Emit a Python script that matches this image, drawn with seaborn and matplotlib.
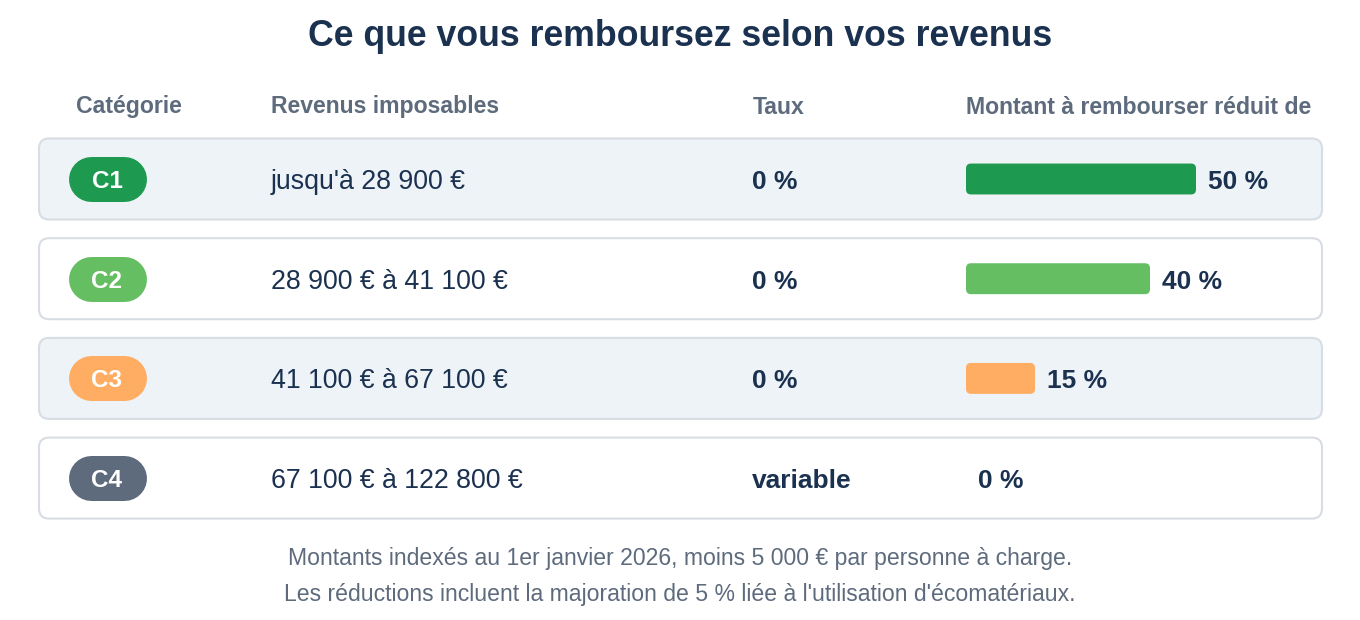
import numpy as np
import matplotlib
matplotlib.use("Agg")
import matplotlib.pyplot as plt
from matplotlib.patches import FancyBboxPatch
import seaborn as sns

# data
categories = ["C1", "C2", "C3", "C4"]
revenus = ["jusqu'à 28 900 €", "28 900 € à 41 100 €", "41 100 € à 67 100 €", "67 100 € à 122 800 €"]
taux = ["0 %", "0 %", "0 %", "variable"]
reduction = [50, 40, 15, 0]
colors = ["#1E9A50", "#66BE62", "#FFAD62", "#5D6B7D"]
headers = ["Catégorie", "Revenus imposables", "Taux", "Montant à rembourser réduit de"]
title = "Ce que vous remboursez selon vos revenus"
notes = ["Montants indexés au 1er janvier 2026, moins 5 000 € par personne à charge.",
         "Les réductions incluent la majoration de 5 % liée à l'utilisation d'écomatériaux."]

sns.set_theme(style="white")
plt.rcParams["font.family"] = ["Liberation Sans", "DejaVu Sans"]

NAVY = "#1B3150"
GREY = "#5D6B7D"
W, H = 1360, 620
ROW0, PITCH = 179, 99.7

fig = plt.figure(figsize=(W / 100, H / 100), dpi=100)
bg = fig.add_axes([0, 0, 1, 1])
bg.set_xlim(0, W)
bg.set_ylim(H, 0)
bg.axis("off")

bg.text(680, 36, title, ha="center", va="center", fontsize=25.7, fontweight="bold", color=NAVY)
for x, h in zip([76, 271, 753, 966], headers):
    bg.text(x, 107, h, ha="left", va="center", fontsize=16.6, fontweight="bold", color=GREY)

for i, cat in enumerate(categories):
    yc = ROW0 + i * PITCH
    face = "#EEF3F8" if i % 2 == 0 else "white"
    bg.add_patch(FancyBboxPatch((39, yc - 40.5), 1283, 81,
                                boxstyle="round,pad=0,rounding_size=10",
                                facecolor=face, edgecolor="#D8DDE3", lw=1.5, zorder=1))
    # pill badge: thick line with round caps
    bg.plot([90.5, 123.5], [yc, yc], color=colors[i], lw=45 * 0.72,
            solid_capstyle="round", zorder=2)
    bg.text(107, yc + 2.5, cat, ha="center", va="center", fontsize=17.5, fontweight="bold",
            color="white", zorder=3)
    bg.text(271, yc + 3, revenus[i], ha="left", va="center", fontsize=19.3, color=NAVY, zorder=3)
    bg.text(752, yc + 3, taux[i], ha="left", va="center", fontsize=19, fontweight="bold",
            color=NAVY, zorder=3)

for k, line in enumerate(notes):
    bg.text(680, 559 + k * 36, line, ha="center", va="center", fontsize=16.6, color=GREY)

# bars
bax = fig.add_axes([966 / W, 1 - (ROW0 - PITCH / 2 + 4 * PITCH) / H, 230 / W, 4 * PITCH / H])
sns.barplot(x=reduction, y=categories, hue=categories, palette=colors, orient="h",
            width=0.31, legend=False, ax=bax)
bax.set_xlim(0, 50)
bax.set_ylim(3.5, -0.5)
bax.axis("off")
bax.patch.set_alpha(0)

to_px = bax.transData + bg.transData.inverted()
for p, val, col in zip(bax.patches, reduction, colors):
    x0, y0 = p.get_x(), p.get_y()
    (px0, py0), (px1, py1) = to_px.transform([[x0, y0], [x0 + p.get_width(), y0 + p.get_height()]])
    p.set_visible(False)
    top, bot = min(py0, py1), max(py0, py1)
    if px1 - px0 > 1:
        bg.add_patch(FancyBboxPatch((px0, top), px1 - px0, bot - top,
                                    boxstyle="round,pad=0,rounding_size=5",
                                    facecolor=col, edgecolor="none", zorder=2))
    bg.text(px1 + 12, (top + bot) / 2 + 3, f"{val} %", ha="left", va="center",
            fontsize=19, fontweight="bold", color=NAVY, zorder=3)

fig.savefig("out.png", dpi=100)
